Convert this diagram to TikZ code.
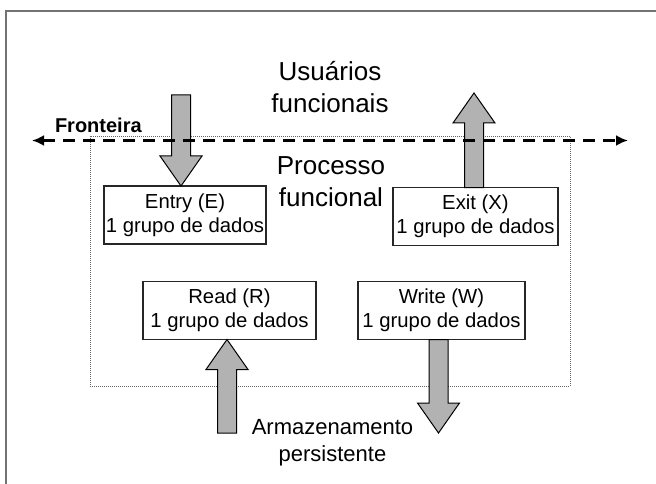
\documentclass[tikz,border=0pt]{standalone}
\usepackage{fontspec}
\setmainfont{Liberation Sans}
\usetikzlibrary{calc,arrows.meta}

% wide grey arrow, vertical only: tail, tip, 1 = down / -1 = up
\newcommand{\fatarrow}[3]{%
\draw[blockarrow] ($(#1)+(-9.5,0)$) -- ($(#2)+(-9.5,-30*#3)$) -- ($(#2)+(-21,-30*#3)$) -- (#2) -- ($(#2)+(21,-30*#3)$) -- ($(#2)+(9.5,-30*#3)$) -- ($(#1)+(9.5,0)$) -- cycle;}

\begin{document}
\begin{tikzpicture}[x=1pt,y=-1pt]
\def\arrowcol{gray!60}
\def\framecol{black!55}

\tikzset{every node/.style={align=center, inner sep=0pt, outer sep=0pt}}
\tikzset{movebox/.style={draw=black!85, line width=1.2pt, minimum height=58pt, font=\fontsize{20.3}{24}\selectfont}}
\tikzset{bigtext/.style={font=\fontsize{26}{32.5}\selectfont}}
\tikzset{blockarrow/.style={fill=\arrowcol, draw=black, line width=1pt, line join=miter}}
\tikzset{boundary/.style={line width=2.5pt, dash pattern=on 12pt off 8pt, {Latex[length=12pt,width=11pt]}-{Latex[length=12pt,width=11pt]}}}
\useasboundingbox (0,0) rectangle (656,484);
%%%%%% outer frame
\draw[\framecol, line width=1.5pt] (6,490) |- (660,11);

%%%%%% functional process
\node(proc)at(330,261)[draw=black!60, line width=.8pt, dash pattern=on 1pt off 1pt, minimum width=480pt, minimum height=250pt]{};
\node(users)at(330,87)[bigtext]{Usuários\\funcionais};
\node(proclabel)at(331,181.5)[bigtext]{Processo\\funcional};
\node(storage)at(332.5,443)[font=\fontsize{22}{27}\selectfont]{Armazenamento\\persistente};

%%%%%% data movements
\node(entry)at(185,215)[movebox, minimum width=162pt]{Entry (E)\\1 grupo de dados};
\node(exit)at(475.5,216.5)[movebox, minimum width=165pt]{Exit (X)\\1 grupo de dados};
\node(read)at(229.5,310.5)[movebox, minimum width=173pt]{Read (R)\\1 grupo de dados};
\node(write)at(441.5,310.5)[movebox, minimum width=167pt]{Write (W)\\1 grupo de dados};

%%%%%% arrow ends
\coordinate(usrin)at(181,95);
\coordinate(entrytip)at(entry.north -| usrin);
\coordinate(usrout)at(474,93);
\coordinate(exittail)at(exit.north -| usrout);
\coordinate(storein)at(227,433);
\coordinate(readtip)at(read.south -| storein);
\coordinate(storeout)at(438.5,433);
\coordinate(writetail)at(write.south -| storeout);

\fatarrow{usrin}{entrytip}{1}
\fatarrow{exittail}{usrout}{-1}
\fatarrow{storein}{readtip}{-1}
\fatarrow{writetail}{storeout}{1}

%%%%%% boundary
\coordinate(bwest)at(32,140.5);
\coordinate(beast)at(628,140.5);
\draw[boundary] (bwest) -- (beast);
\node(boundlabel)at(55,133)[anchor=base west, font=\fontsize{20}{24}\selectfont\bfseries]{Fronteira};
\end{tikzpicture}
\end{document}
